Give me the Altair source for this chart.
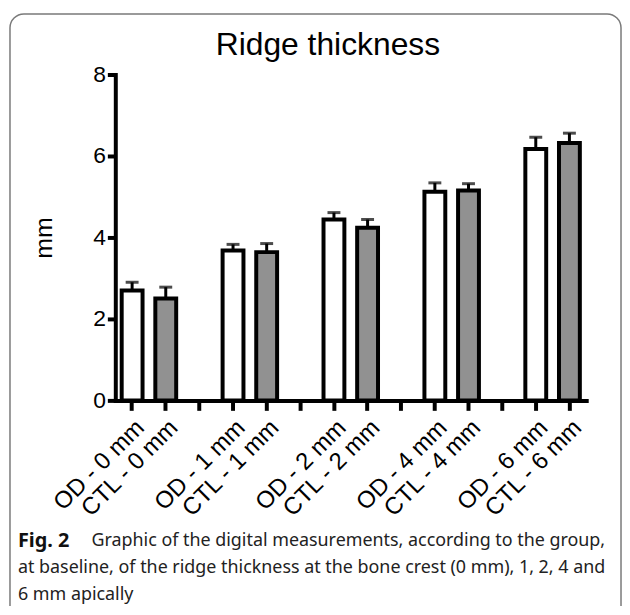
import altair as alt
import pandas as pd

groups = ["0 mm", "1 mm", "2 mm", "4 mm", "6 mm"]
od_mean = [2.70, 3.68, 4.44, 5.12, 6.17]
od_err = [0.20, 0.15, 0.17, 0.22, 0.29]
ctl_mean = [2.50, 3.64, 4.24, 5.15, 6.32]
ctl_err = [0.28, 0.21, 0.20, 0.17, 0.24]

title_text = "Ridge thickness"
caption_bold = "Fig. 2"
caption_lines = [
    "Graphic of the digital measurements, according to the group,",
    "at baseline, of the ridge thickness at the bone crest (0 mm), 1, 2, 4 and",
    "6 mm apically",
]

rows = []
domain = []
for i, g in enumerate(groups):
    for grp, m, e in (("OD", od_mean[i], od_err[i]), ("CTL", ctl_mean[i], ctl_err[i])):
        lab = f"{grp} - {g}"
        domain.append(lab)
        rows.append({"label": lab, "group": grp, "mean": m, "top": m + e})
    if i < len(groups) - 1:
        domain.append(" " * (i + 1))
df = pd.DataFrame(rows)

xscale = alt.Scale(domain=domain, paddingInner=0, paddingOuter=0)
xaxis = alt.Axis(labelAngle=-45, tickSize=10, tickWidth=4, domainWidth=4, domainColor="black",
                 tickColor="black", labelFontSize=24, labelFont="Liberation Sans", labelColor="black",
                 title=None, labelPadding=5, domainCap="square")
yaxis = alt.Axis(values=[0, 2, 4, 6, 8], tickSize=8, tickWidth=4, domainWidth=4, domainColor="black",
                 tickColor="black", labelFontSize=23, labelFont="Liberation Sans", labelColor="black",
                 title="mm", titleFontSize=25, titleFont="Liberation Sans", titleFontWeight="normal",
                 titleColor="black", titlePadding=36, grid=False, labelPadding=2, domainCap="square")
X = alt.X("label:N", scale=xscale, axis=xaxis, sort=domain)
Y = alt.Y("mean:Q", scale=alt.Scale(domain=[0, 8], nice=False), axis=yaxis)

base = alt.Chart(df)
rules = base.mark_rule(strokeWidth=3, color="black").encode(x=X, y=Y, y2="top:Q")
caps = base.mark_tick(size=13, thickness=3, color="black").encode(x=X, y="top:Q")
bars = base.mark_bar(size=21, stroke="black", strokeWidth=4).encode(
    x=X, y=Y,
    fill=alt.Fill("group:N", scale=alt.Scale(domain=["OD", "CTL"], range=["#ffffff", "#919191"]), legend=None),
)

dummy = pd.DataFrame({"t": [title_text]})
border = alt.Chart(dummy).mark_rect(cornerRadius=14, fill=None, stroke="#7a7a7a", strokeWidth=1.5).encode(
    x=alt.value(-106), x2=alt.value(509), y=alt.value(-61), y2=alt.value(560))
title = alt.Chart(dummy).mark_text(fontSize=32, font="Liberation Sans", color="black", baseline="middle",
                                   align="center").encode(x=alt.value(214), y=alt.value(-30), text="t:N")

cap_df = pd.DataFrame({"t": [caption_bold]})
cap_bold = alt.Chart(cap_df).mark_text(fontSize=20, font="Noto Sans", fontWeight="bold", align="left",
                                       baseline="middle", color="#111111").encode(
    x=alt.value(-98), y=alt.value(470), text="t:N")
cap_layers = []
for k, line in enumerate(caption_lines):
    d = pd.DataFrame({"t": [line]})
    xpos = -24 if k == 0 else -98
    cap_layers.append(alt.Chart(d).mark_text(fontSize=18, font="Noto Sans", align="left", baseline="middle",
                                             color="#222222").encode(
        x=alt.value(xpos), y=alt.value(470 + 27 * k), text="t:N"))

chart = alt.layer(border, title, rules, caps, bars, cap_bold, *cap_layers).properties(
    width=474, height=328,
    autosize=alt.AutoSizeParams(type="none"),
    padding={"left": 108, "top": 65, "right": 36, "bottom": 205},
).configure_view(stroke=None)

chart.save("out.html", embed_options={"renderer": "svg", "actions": False})
